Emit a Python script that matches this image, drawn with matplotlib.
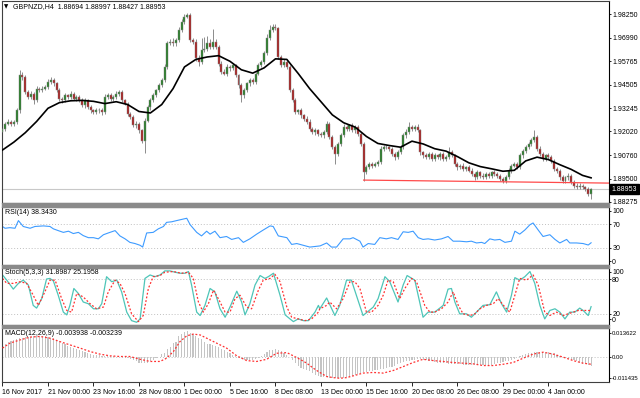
import numpy as np
import matplotlib
matplotlib.use("Agg")
import matplotlib.pyplot as plt
from matplotlib.patches import Rectangle

plt.rcParams['font.family'] = ['Liberation Sans', 'DejaVu Sans']

# GBPNZD H4 closes, one per bar (208 bars)
closes = [
    1.9215, 1.9243, 1.9252, 1.9243, 1.9252, 1.9314, 1.9501, 1.9492, 1.9412, 1.9385, 1.9403, 1.9368, 1.9430, 1.9421, 1.9430, 1.9439,
    1.9465, 1.9474, 1.9457, 1.9421, 1.9376, 1.9368, 1.9394, 1.9385, 1.9403, 1.9376, 1.9385, 1.9368, 1.9341, 1.9368, 1.9332, 1.9314,
    1.9305, 1.9314, 1.9314, 1.9305, 1.9385, 1.9394, 1.9376, 1.9385, 1.9403, 1.9412, 1.9368, 1.9350, 1.9296, 1.9278, 1.9234, 1.9243,
    1.9207, 1.9150, 1.9260, 1.9330, 1.9368, 1.9394, 1.9421, 1.9448, 1.9474, 1.9546, 1.9670, 1.9679, 1.9670, 1.9688, 1.9741, 1.9786,
    1.9813, 1.9821, 1.9688, 1.9679, 1.9590, 1.9572, 1.9635, 1.9643, 1.9670, 1.9652, 1.9679, 1.9652, 1.9563, 1.9519, 1.9510, 1.9546,
    1.9537, 1.9554, 1.9501, 1.9448, 1.9394, 1.9421, 1.9457, 1.9474, 1.9465, 1.9510, 1.9554, 1.9572, 1.9617, 1.9697, 1.9741, 1.9759,
    1.9750, 1.9599, 1.9554, 1.9572, 1.9546, 1.9421, 1.9368, 1.9305, 1.9314, 1.9287, 1.9270, 1.9252, 1.9216, 1.9198, 1.9207, 1.9189,
    1.9181, 1.9198, 1.9243, 1.9172, 1.9118, 1.9083, 1.9136, 1.9181, 1.9225, 1.9216, 1.9234, 1.9207, 1.9225, 1.9189, 1.9136, 1.8985,
    1.9011, 1.9029, 1.9020, 1.9029, 1.9038, 1.9109, 1.9118, 1.9118, 1.9109, 1.9083, 1.9065, 1.9092, 1.9118, 1.9181, 1.9198, 1.9225,
    1.9216, 1.9225, 1.9207, 1.9090, 1.9074, 1.9065, 1.9083, 1.9056, 1.9074, 1.9065, 1.9083, 1.9056, 1.9065, 1.9092, 1.9074, 1.9029,
    1.9011, 1.9020, 1.9003, 1.9011, 1.8994, 1.8976, 1.8958, 1.8985, 1.8967, 1.8958, 1.8976, 1.8967, 1.8985, 1.8976, 1.8967, 1.8949,
    1.8940, 1.8958, 1.8994, 1.9020, 1.9029, 1.9011, 1.9074, 1.9100, 1.9118, 1.9136, 1.9154, 1.9172, 1.9110, 1.9083, 1.9056, 1.9074,
    1.9065, 1.9047, 1.9003, 1.8994, 1.8958, 1.8940, 1.8958, 1.8967, 1.8932, 1.8914, 1.8905, 1.8914, 1.8905, 1.8895, 1.8869, 1.88953,
]
first_open = 1.9200

# wick lengths in pips above / below the body
wick_up = [
    12, 10, 14, 9, 11, 12, 30, 15, 10, 12, 14, 9, 12, 10, 15, 12,
    14, 17, 10, 8, 12, 10, 14, 9, 12, 10, 11, 9, 12, 10, 8, 11,
    9, 12, 10, 11, 14, 10, 12, 9, 15, 12, 10, 8, 9, 11, 10, 12,
    9, 10, 12, 14, 10, 12, 9, 11, 10, 15, 12, 14, 20, 12, 15, 13,
    14, 13, 10, 9, 12, 18, 65, 60, 40, 25, 66, 15, 9, 11, 14, 12,
    10, 12, 9, 8, 10, 12, 10, 14, 11, 10, 12, 9, 14, 25, 27, 13,
    15, 10, 12, 14, 10, 8, 10, 12, 9, 11, 10, 12, 14, 10, 12, 9,
    11, 10, 14, 9, 10, 12, 11, 10, 14, 12, 10, 12, 9, 12, 10, 12,
    10, 11, 9, 12, 10, 14, 10, 12, 9, 11, 10, 12, 14, 12, 15, 29,
    12, 10, 14, 10, 9, 11, 12, 10, 14, 9, 11, 10, 12, 28, 10, 9,
    11, 10, 12, 9, 10, 11, 12, 10, 9, 12, 10, 11, 9, 10, 12, 9,
    10, 12, 11, 10, 9, 12, 14, 10, 12, 11, 15, 37, 10, 12, 11, 10,
    12, 9, 10, 11, 10, 12, 9, 14, 10, 11, 12, 15, 10, 9, 11, 5,
]
wick_dn = [
    10, 12, 9, 14, 11, 10, 12, 14, 11, 12, 10, 20, 12, 11, 9, 10,
    12, 10, 11, 9, 12, 14, 10, 12, 11, 9, 12, 10, 11, 13, 10, 12,
    11, 9, 12, 14, 10, 11, 12, 10, 9, 11, 12, 10, 14, 12, 11, 12,
    14, 12, 65, 10, 12, 11, 9, 10, 12, 11, 14, 10, 12, 11, 9, 10,
    12, 10, 11, 14, 12, 20, 10, 12, 11, 10, 12, 10, 14, 12, 10, 11,
    12, 10, 11, 14, 36, 12, 10, 11, 12, 10, 9, 11, 12, 10, 11, 12,
    10, 12, 11, 10, 14, 12, 10, 12, 11, 14, 12, 10, 11, 12, 14, 10,
    11, 12, 10, 9, 12, 54, 12, 14, 10, 12, 11, 10, 12, 11, 10, 45,
    12, 11, 14, 10, 12, 11, 10, 12, 11, 10, 14, 12, 10, 11, 12, 10,
    11, 12, 10, 14, 11, 10, 12, 11, 10, 12, 14, 10, 11, 12, 10, 11,
    12, 10, 11, 12, 10, 11, 12, 10, 12, 11, 10, 12, 11, 10, 12, 11,
    12, 10, 11, 12, 10, 11, 10, 12, 11, 10, 12, 11, 10, 12, 11, 10,
    11, 12, 10, 11, 12, 10, 11, 12, 10, 11, 12, 10, 11, 12, 10, 26,
]

# moving average (black line), read every 4 bars
ma_x = list(range(0, 208, 4)) + [207]
ma_v = [1.9103, 1.9145, 1.9195, 1.9255, 1.9325, 1.9355, 1.9365, 1.9367, 1.9362, 1.9350,
        1.9360, 1.9345, 1.9308, 1.9300, 1.9345, 1.9430, 1.9545, 1.9585, 1.9598, 1.9605,
        1.9575, 1.9530, 1.9512, 1.9540, 1.9588, 1.9585, 1.9510, 1.9430, 1.9360, 1.9290,
        1.9248, 1.9225, 1.9175, 1.9138, 1.9127, 1.9118, 1.9150, 1.9135, 1.9110, 1.9097,
        1.9068, 1.9035, 1.9015, 1.9003, 1.8990, 1.8995, 1.9045, 1.9065, 1.9052, 1.9025,
        1.9000, 1.8968, 1.8955]

support_x = [127, 213.3]
support_v = [1.8943, 1.8927]
last_price = 1.88953

rsi_x = [0, 0.9, 2.6, 4.4, 5.6, 7.3, 9.7, 11.4, 14.4, 16.7, 17.9, 19.6, 21.4, 23.2, 24.9, 26.7,
         28.4, 30.2, 32.0, 33.7, 35.5, 37.2, 39.6, 41.3, 43.1, 44.8, 46.6, 48.4, 49.3, 50.7, 53.0,
         54.8, 56.6, 57.7, 59.5, 61.2, 63.0, 64.8, 66.0, 68.3, 70.0, 71.8, 73.0, 74.7, 76.5, 78.8,
         80.6, 83.0, 84.7, 87.0, 89.4, 91.7, 94.1, 95.2, 97.0, 100.0, 101.7, 103.5, 105.8, 108.1,
         111.7, 114.0, 115.7, 117.5, 119.8, 122.2, 123.3, 125.7, 126.8, 128.6, 130.9, 132.7, 135.0,
         136.8, 139.1, 140.9, 142.7, 144.4, 146.2, 147.9, 149.7, 152.0, 154.4, 156.7, 158.5, 160.8,
         163.2, 164.9, 166.7, 168.5, 169.6, 171.4, 173.1, 174.9, 176.7, 179.0, 180.2, 181.9, 183.7,
         185.5, 186.6, 188.4, 190.1, 192.5, 194.3, 196.0, 198.4, 199.5, 201.9, 204.2, 206.0, 207.0]
rsi_v = [66, 63, 64, 63, 76, 66, 63, 66, 67, 66, 62, 59, 56, 58, 54, 56,
         50.5, 47, 47, 45, 52, 55, 59, 50, 45, 39, 37, 34, 31, 55, 56,
         62, 66, 73, 74, 76, 78, 80, 69, 56, 50, 58, 53, 58, 47, 49,
         44, 47, 39, 45, 53, 60, 67, 66, 50, 47, 35.5, 37, 34, 31,
         33, 38, 31, 31, 45, 45, 47, 41, 31, 37, 35.5, 47, 45,
         47, 44, 57, 56, 58, 47, 44, 45, 43, 45, 49, 41, 41,
         40, 41, 38, 39, 37, 45, 43, 44, 39, 41, 58, 53, 60,
         69, 72, 60, 49, 52, 44, 38, 44, 38, 38, 37, 34.5, 38.3]

stk_x = [0, 1.5, 3.8, 5.6, 7.3, 9.1, 10.8, 12.0, 13.8, 15.5, 16.7, 17.9, 19.6, 21.4, 22.6, 23.7,
         25.1, 26.7, 28.4, 30.2, 32.0, 33.7, 34.9, 36.6, 38.4, 40.2, 41.9, 43.7, 45.4, 47.2, 48.4,
         50.1, 51.9, 53.6, 55.4, 57.1, 58.9, 60.7, 62.4, 64.2, 65.4, 66.5, 68.3, 69.5, 71.2, 73.0,
         74.7, 76.5, 78.3, 80.0, 82.4, 84.1, 85.3, 87.0, 88.8, 90.6, 92.3, 93.5, 95.3, 97.6, 99.4,
         101.1, 102.3, 104.0, 105.8, 107.6, 109.9, 111.1,
         111.6, 114.0, 116.9, 118.6, 121.0, 122.7, 126.8, 130.4, 132.1, 134.5, 136.2, 139.1, 140.9,
         142.3, 145.0, 147.9, 149.7, 152.0, 155.0, 156.7, 157.9, 159.1, 160.8, 163.2, 164.9, 166.7,
         169.0, 171.4, 173.7, 175.5, 177.3, 179.0, 180.2, 181.9, 183.7, 185.5, 187.2, 189.0, 190.7,
         192.5, 194.3, 196.0, 197.8, 199.5, 201.3, 203.0, 204.2, 206.0, 207.0]
stk_v = [87, 78, 62.4, 72.4, 78, 69.4, 34.1, 29.4, 45.9, 80, 81, 76.5, 51.8, 22.4, 17.6, 34.1,
         63.5, 54.7, 40, 37, 28.2, 28.2, 37, 84, 75.3, 78, 57.6, 22.4, 7.6, 4.7, 10.6,
         81, 87, 84, 87, 94.1, 94.1, 91.8, 90, 90, 93, 69.4, 22.4, 16.5, 34.1, 63.5,
         57.6, 28.2, 13.5, 31.2, 58.8, 40, 17.6, 37, 69.4, 86, 81, 84, 90, 51.8, 17.6,
         10.6, 5.9, 10.6, 7.6, 7.6, 22.4, 34.1,
         28.2, 47, 16.5, 34.1, 78, 78, 16.5, 31.2, 45.9, 84, 75.3, 40, 69.4,
         86, 78, 13.5, 22.4, 22.4, 34.1, 62.4, 63.5, 40, 19.4, 19.4, 13.5, 22.4,
         34.1, 35.3, 57.6, 37, 22.4, 51.8, 82.4, 78, 84, 93, 72.4, 34.1, 10.6,
         25.3, 28.2, 22.4, 10.6, 22.4, 22.4, 29.4, 25.3, 16.5, 31.9]

sig_x = [0, 1.5, 3.8, 6.2, 8.5, 10.8, 12.6, 14.9, 16.7, 18.5, 20.8, 22.6, 24.3, 26.1, 28.4, 30.8,
         33.1, 35.5, 37.2, 39.6, 41.3, 43.1, 45.4, 47.8, 49.5, 51.3, 53.0, 55.4, 57.1, 60.1, 63.0,
         65.4, 67.1, 68.9, 70.6, 72.4, 74.2, 75.9, 78.3, 80.0, 81.8, 83.5, 85.9, 87.6, 90.0, 91.7,
         94.1, 95.8, 97.6, 100.0, 101.7, 104.0, 106.4, 108.7, 111.1,
         111.6, 114.0, 115.1, 117.5, 119.8, 122.2, 123.9, 125.7, 128.0, 129.8, 132.1, 133.9, 135.6,
         137.4, 139.7, 141.5, 143.8, 145.6, 148.5, 150.3, 152.0, 154.4, 156.7, 158.5, 160.3, 162.0,
         164.4, 166.1, 167.9, 170.2, 172.6, 174.3, 176.7, 178.4, 180.2, 181.9, 184.3, 186.6, 188.4,
         190.7, 192.5, 194.8, 197.2, 198.9, 200.7, 202.5, 204.8, 207.0]
sig_v = [81, 72.4, 72.4, 75.3, 72.4, 51.8, 34.1, 57.6, 78, 78, 45.9, 25.3, 22.4, 54.7, 48.8, 37,
         28.2, 31.2, 57.6, 78, 72.4, 54.7, 19.4, 5.9, 16.5, 63.5, 84, 86, 91.8, 93, 90,
         91.8, 81, 40, 22.4, 37, 60.6, 45.9, 22.4, 22.4, 45.9, 51.8, 31.2, 28.2, 60.6, 78,
         81, 88.2, 75.3, 31.2, 13.5, 10.6, 7.6, 10.6, 22.4,
         28.2, 34.1, 40, 28.2, 45.9, 75.3, 75.3, 63.5, 22.4, 22.4, 34.1, 51.8, 78,
         75.3, 45.9, 63.5, 81, 75.3, 34.1, 22.4, 22.4, 28.2, 40, 57.6, 34.1, 19.4,
         16.5, 19.4, 28.2, 34.1, 37, 45.9, 31.2, 22.4, 51.8, 81, 78, 87, 69.4,
         22.4, 16.5, 22.4, 16.5, 19.4, 22.4, 25.3, 25.3, 25.2]

# MACD main (histogram) in units of 1e-4, one per bar
macd_main = [
    58, 64, 70, 75, 79, 83, 88, 91, 93, 95, 96, 97, 99, 100, 100, 99,
    96, 92, 88, 81, 74, 67, 60, 54, 47, 42, 38, 33, 28, 24, 21, 16,
    12, 11, 9, 7, 5, 4, 4, 4, 2, 1, 1, 0, -1, -7, -12, -18,
    -25, -27, -25, -24, -16, -12, -3, 2, 14, 22, 40, 50, 65, 73, 100, 110,
    119, 120, 115, 107, 100, 90, 83, 70, 64, 62, 58, 55, 50, 40, 33, 25,
    18, 12, 5, -3, -6, -11, -12, -12, -12, -8, -1, 6, 17, 25, 32, 36,
    38, 34, 28, 20, 12, 3, -12, -24, -40, -50, -56, -58, -64, -71, -80, -86,
    -89, -91, -92, -95, -97, -97, -97, -96, -94, -92, -89, -86, -82, -76, -72, -69,
    -66, -63, -61, -60, -58, -56, -53, -50, -47, -43, -40, -32, -28, -23, -19, -16,
    -12, -10, -9, -9, -11, -12, -15, -19, -21, -24, -25, -27, -27, -29, -30, -31,
    -32, -33, -34, -35, -35, -35, -35, -35, -35, -35, -35, -35, -34, -30, -28, -25,
    -22, -19, -16, -13, -7, 2, 6, 11, 15, 18, 21, 23, 25, 26, 26, 26,
    25, 21, 18, 13, 8, 3, -3, -7, -11, -14, -19, -24, -29, -33, -36, -39,
]
macd_sig_x = [0, 2.6, 6.2, 9.7, 13.2, 16.7, 20.2, 23.7, 27.3, 30.8, 34.3, 37.8, 41.3, 44.8, 48.4,
              51.9, 55.4, 57.7, 60.1, 62.4, 64.8, 67.1, 69.5, 71.8, 75.3, 78.8, 82.4, 85.9, 89.4,
              92.9, 96.4, 100.0, 102.3, 104.6, 107.0, 109.3, 111.1, 114.0, 116.3, 118.6, 121.0,
              123.3, 126.8, 130.4, 133.9, 137.4, 140.9, 144.4, 147.9, 151.5, 155.0, 158.5, 162.0,
              165.5, 169.0, 172.6, 176.1, 179.6, 183.1, 186.6, 190.1, 193.7, 197.2, 200.7, 204.2, 207.0]
macd_sig_v = [0.0043, 0.0066, 0.0081, 0.0094, 0.0097, 0.0089, 0.0073, 0.0058, 0.0043, 0.0027,
              0.0015, 0.0007, 0.0004, 0.0004, -0.0009, -0.0019, -0.0019, -0.0004, 0.0027, 0.0073,
              0.0100, 0.0108, 0.0104, 0.0089, 0.0066, 0.0043, 0.0007, -0.0015, -0.0019, -0.0009,
              0.0019, 0.0022, 0.0007, -0.0009, -0.0027, -0.0050, -0.0066, -0.0089, -0.0094, -0.0097,
              -0.0094, -0.0086, -0.0073, -0.0070, -0.0073, -0.0061, -0.0043, -0.0024, -0.0009,
              -0.0015, -0.0019, -0.0024, -0.0027, -0.0030, -0.0038, -0.0038, -0.0032, -0.0024,
              -0.0004, 0.0015, 0.0024, 0.0015, 0.0001, -0.0015, -0.0027, -0.0032]

date_pos = list(range(0, 208, 16))
date_labels = ['16 Nov 2017', '21 Nov 00:00', '23 Nov 16:00', '28 Nov 08:00', '1 Dec 00:00',
               '5 Dec 16:00', '8 Dec 08:00', '13 Dec 00:00', '15 Dec 16:00', '20 Dec 08:00',
               '26 Dec 08:00', '29 Dec 00:00', '4 Jan 00:00']
price_ticks = [1.98250, 1.96990, 1.95765, 1.94505, 1.93245, 1.92020, 1.90760, 1.89500, 1.88275]

W, H = 640, 398
fig = plt.figure(figsize=(W / 100, H / 100), dpi=100)
fig.patch.set_facecolor('white')
L, R = 1.5, 609


def panel(top, bottom):
    return fig.add_axes([L / W, 1 - bottom / H, (R - L) / W, (bottom - top) / H])


ax = panel(1, 203)
ax_rsi = panel(206.5, 265.3)
ax_st = panel(267.5, 325)
ax_md = panel(328, 382)

XL = (-0.35, 213.3)
FS = 5
for a in (ax, ax_rsi, ax_st, ax_md):
    a.set_xlim(*XL)
    a.set_facecolor('white')
    a.yaxis.tick_right()
    a.tick_params(axis='y', length=1.5, width=0.6, labelsize=FS, pad=0.8, colors='black')
    a.tick_params(axis='x', length=0, labelbottom=False)
    for s in ('left', 'top', 'bottom'):
        a.spines[s].set_color('#404040')
        a.spines[s].set_linewidth(0.8)
    a.spines['right'].set_color('black')
    a.spines['right'].set_linewidth(0.8)

# ---- main candles ----
idx = np.arange(len(closes))
c = np.array(closes)
o = np.array([first_open] + closes[:-1])
top = np.maximum(o, c)
bot = np.minimum(o, c)
hi = top + np.array(wick_up) * 1e-4
lo = bot - np.array(wick_dn) * 1e-4
up = c >= o

ax.axhline(last_price, color='#c8c8c8', lw=0.8, zorder=1)
ax.vlines(idx, lo, hi, color='#8c8c8c', lw=0.7, zorder=2)
body_h = np.maximum(top - bot, 0.00012)
ax.bar(idx[up], body_h[up], bottom=bot[up], width=0.7, color='#1f7a1f',
       edgecolor='#8c8c8c', linewidth=0.35, zorder=3)
ax.bar(idx[~up], body_h[~up], bottom=bot[~up], width=0.7, color='#a81818',
       edgecolor='#8c8c8c', linewidth=0.35, zorder=3)
ax.plot(ma_x, ma_v, color='black', lw=1.2, zorder=4)
ax.plot(support_x, support_v, color='#ff4a4a', lw=0.9, zorder=4)
ax.set_ylim(1.88211, 1.98958)
ax.set_yticks(price_ticks)
ax.set_yticklabels(['%.5f' % p for p in price_ticks])

# ---- RSI ----
ax_rsi.axhline(70, color='#c0c0c0', lw=0.7, ls=(0, (1, 2)))
ax_rsi.axhline(30, color='#c0c0c0', lw=0.7, ls=(0, (1, 2)))
ax_rsi.plot(rsi_x, rsi_v, color='#3d9bff', lw=0.8)
ax_rsi.set_ylim(0, 100)
ax_rsi.set_yticks([92.9, 70, 30, 7.3])
ax_rsi.set_yticklabels(['100', '70', '30', '0'])

# ---- Stochastic ----
ax_st.axhline(80, color='#c0c0c0', lw=0.7, ls=(0, (1, 2)))
ax_st.axhline(20, color='#c0c0c0', lw=0.7, ls=(0, (1, 2)))
ax_st.plot(stk_x, stk_v, color='#4ec5b8', lw=0.9)
ax_st.plot(sig_x, sig_v, color='#ff3030', lw=0.9, ls=(0, (1.5, 1.5)))
ax_st.set_ylim(0, 100)
ax_st.set_yticks([92.7, 80, 20, 10.4])
ax_st.set_yticklabels(['100', '80', '20', '0'])

# ---- MACD ----
mm = np.array(macd_main) * 1e-4
ax_md.axhline(0, color='#c0c0c0', lw=0.7, ls=(0, (1, 2)), zorder=1)
ax_md.bar(idx, mm, width=0.4, color='#c4c4c4', zorder=2)
ax_md.plot(macd_sig_x, macd_sig_v, color='#ff3030', lw=0.9, ls=(0, (1.5, 1.5)), zorder=3)
ax_md.set_ylim(-0.011435, 0.013622)
ax_md.set_yticks([0.01130, 0.0, -0.00958])
ax_md.set_yticklabels(['0.013622', '0.00', '-0.011435'])
ax_md.tick_params(axis='y', labelsize=4.3)

ax_md.set_xticks(date_pos)
ax_md.set_xticklabels(date_labels, ha='left', fontsize=FS)
ax_md.tick_params(axis='x', length=3, width=0.6, labelbottom=True, pad=2)

for a in (ax, ax_rsi, ax_st, ax_md):
    for lab in a.get_yticklabels():
        lab.set_horizontalalignment('left')

# separators between windows
for y0, y1 in ((203, 206.5), (265.3, 267.5), (325, 328)):
    fig.patches.append(Rectangle((L / W, 1 - y1 / H), (R - L) / W, (y1 - y0) / H,
                                 transform=fig.transFigure, color='#8a8a8a', zorder=5))

# window captions
fig.text(4 / W, 1 - 6.5 / H, '\u25bc', fontsize=4, va='center', ha='left',
         family=['DejaVu Sans'])
fig.text(13 / W, 1 - 6.5 / H, 'GBPNZD,H4  1.88694 1.88997 1.88427 1.88953',
         fontsize=FS, va='center', ha='left')
fig.text(5 / W, 1 - 212 / H, 'RSI(14) 38.3430', fontsize=FS, va='center', ha='left')
fig.text(5 / W, 1 - 273 / H, 'Stoch(5,3,3) 31.8987 25.1958', fontsize=FS, va='center', ha='left')
fig.text(5 / W, 1 - 333.5 / H, 'MACD(12,26,9) -0.003938 -0.003239', fontsize=FS,
         va='center', ha='left')

# current price tag
fig.text(611.5 / W, 1 - 189.2 / H, '%.5f' % last_price, fontsize=FS, color='white',
         va='center', ha='left',
         bbox=dict(boxstyle='square,pad=0.25', facecolor='black', edgecolor='black'))

fig.savefig('out.png', dpi=100, facecolor='white')
